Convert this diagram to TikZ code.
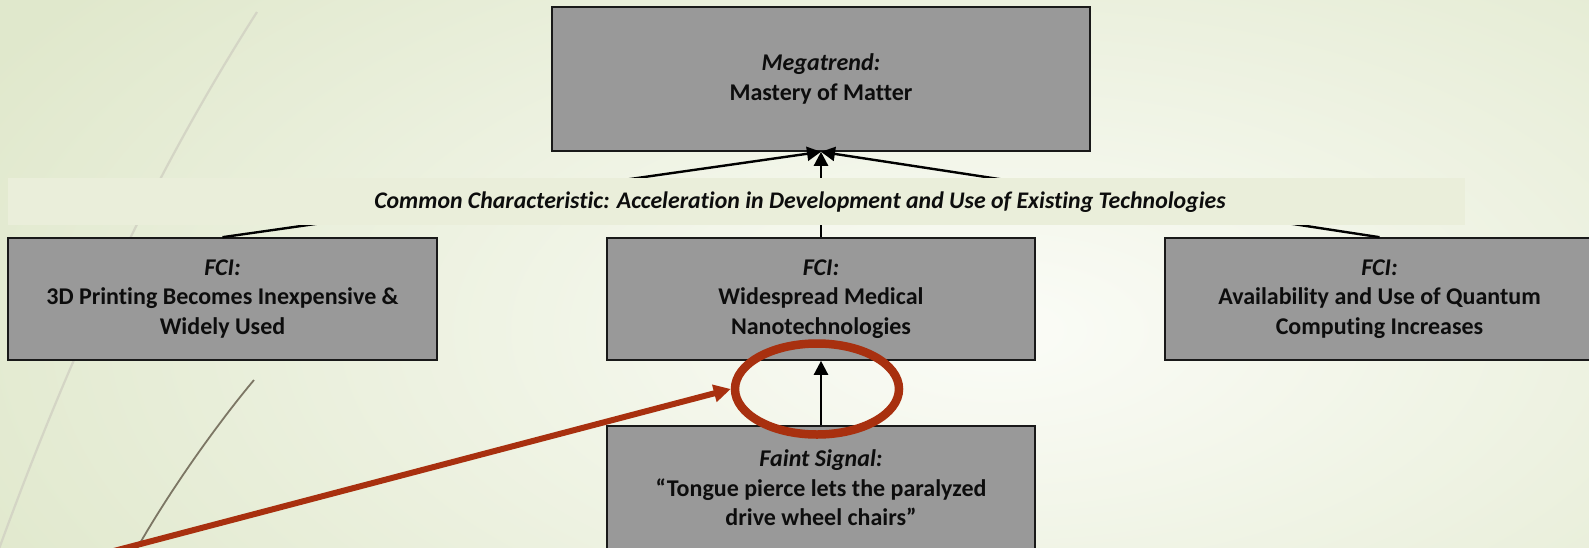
\documentclass[tikz,border=0pt]{standalone}
\usepackage{fontspec}
\setmainfont{Carlito}[Ligatures=NoCommon]
\usetikzlibrary{arrows.meta,shapes.geometric}

\definecolor{boxgray}{HTML}{999999}
\definecolor{bandgreen}{HTML}{EAEEDA}
\definecolor{bgedge}{HTML}{E0E8CC}
\definecolor{bgcenter}{HTML}{FBFCF7}
\definecolor{accent}{HTML}{A8300F}
\definecolor{wisplight}{HTML}{D4D5C5}
\definecolor{wispdark}{HTML}{7C7664}

\begin{document}
\begin{tikzpicture}[x=1pt,y=-1pt,
  box/.style={draw=black!90, line width=1.6pt, fill=boxgray, inner sep=0pt,
    align=center, text=black!95,
    font=\fontsize{24}{29.5}\selectfont\bfseries},
  fcibox/.style={box, minimum width=429pt, minimum height=122pt},
  conn/.style={draw=black, line width=2.4pt,
    -{Triangle[length=14pt,width=14pt]}},
  bandstrip/.style={fill=bandgreen, inner sep=0pt,
    minimum width=1457pt, minimum height=47pt},
  bandlabel/.style={inner sep=0pt, text=black!95,
    font=\fontsize{23.8}{28}\selectfont\bfseries\itshape},
  ring/.style={draw=accent, line width=8.5pt, ellipse, inner sep=0pt,
    minimum width=164pt, minimum height=91pt},
  pointer/.style={draw=accent, line width=6pt,
    -{Triangle[length=17pt,width=17pt]}},
]
\useasboundingbox (0,0) rectangle (1589,547);
\begin{scope}
\clip (0,0) rectangle (1589,547);

% soft background wash
\shade[inner color=bgcenter, outer color=bgedge] (-150,-230) rectangle (2150,890);

% decorative wisps
\draw[wisplight, line width=2.2pt]
  (257,12) .. controls (142,192) and (60,380) .. (-5,560);
\draw[wispdark, line width=1.8pt]
  (254,380) .. controls (222,418) and (165,495) .. (125,570);

% boxes
\node[box, minimum width=538pt, minimum height=144pt] (mega) at (821,79)
  {\textit{Megatrend:}\\Mastery of Matter};
\node[fcibox] (fci1) at (222.5,299)
  {\textit{FCI:}\\3D Printing Becomes Inexpensive \&\\Widely Used};
\node[fcibox, minimum width=428pt] (fci2) at (821,299)
  {\textit{FCI:}\\Widespread Medical\\Nanotechnologies};
\node[fcibox] (fci3) at (1379.5,299)
  {\textit{FCI:}\\Availability and Use of Quantum\\Computing Increases};
\node[fcibox, minimum width=428pt, minimum height=124pt] (signal) at (821,488)
  {\textit{Faint Signal:}\\“Tongue pierce lets the paralyzed\\drive wheel chairs”};

% connectors
\draw[conn] (fci1.north) -- (mega.south);
\draw[conn] (fci3.north) -- (mega.south);
\draw[conn] (fci2.north) -- (mega.south);
\draw[conn] (signal.north) -- (fci2.south);

% common characteristic strip
\node[bandstrip] (band) at (736.5,201.5) {};
\node[bandlabel] (bandtext) at (800,202)
  {Common Characteristic: Acceleration in Development and Use of Existing Technologies};

% highlight
\node[ring] (hl) at (817,389) {};
\coordinate (tail) at (110,552);
\draw[pointer] (tail) -- (hl.west);
\end{scope}
\end{tikzpicture}
\end{document}
